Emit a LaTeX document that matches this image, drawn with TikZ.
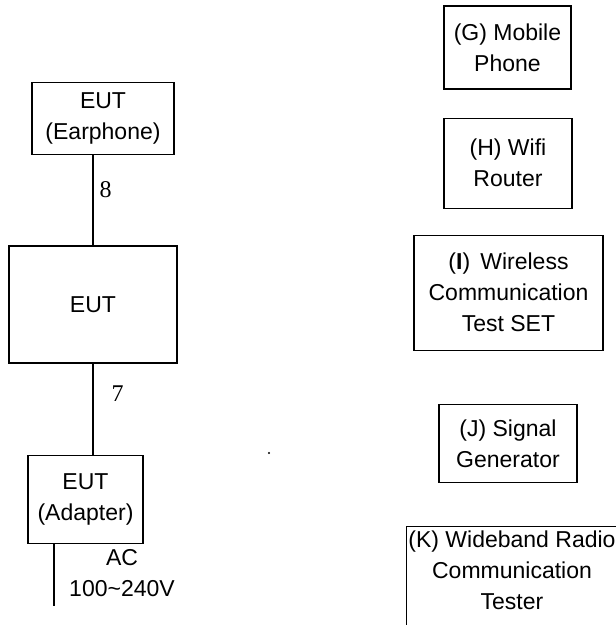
\documentclass[tikz,border=0pt]{standalone}
\usepackage{fontspec}
\setmainfont{Liberation Sans}
\newfontfamily\numfont{Liberation Serif}
\usetikzlibrary{positioning}
\tikzset{
  eqbox/.style={rectangle, draw=black, line width=1.1pt, align=center,
                font=\fontsize{23}{31}\selectfont, inner sep=2pt},
  wire/.style={draw=black, line width=1.1pt},
  numlbl/.style={font=\numfont\fontsize{24}{24}\selectfont, inner sep=1pt},
}

\begin{document}
\begin{tikzpicture}[x=1pt, y=1pt, node distance=28pt]
  \clip (0,0) rectangle (616,625);
  % EUT chain
  \node[eqbox, minimum width=168pt, minimum height=117pt] (eut) at (93,320.5) {EUT};
  \node[eqbox, minimum width=142pt, minimum height=72pt, above=90pt of eut, xshift=10pt]
    (ear) {EUT\\(Earphone)};
  \node[eqbox, minimum width=115pt, minimum height=88pt, below=91pt of eut, xshift=-7.5pt]
    (adp) {EUT\\(Adapter)};
  \coordinate (acend) at (54,19);
  \draw[wire] (eut.north) -- node[numlbl, pos=0.62, right=5pt] {8} (eut.north |- ear.south);
  \draw[wire] (eut.south) -- node[numlbl, pos=0.33, right=17pt] {7} (eut.south |- adp.north);
  \draw[wire] (adp.south -| acend) -- (acend);
  \node[align=center, font=\fontsize{23}{31}\selectfont, inner sep=0pt] (ac) at (122,52)
    {AC\\100\textasciitilde240V};
  \node[circle, fill=black, inner sep=0pt, minimum size=2.2pt] (dot) at (269,172) {};
  % test equipment
  \node[eqbox, minimum width=127pt, minimum height=83pt] (mob) at (507.5,577.5) {(G) Mobile\\Phone};
  \node[eqbox, minimum width=128pt, minimum height=90pt, below=28pt of mob, xshift=0.5pt]
    (wifi) {(H) Wifi\\Router};
  \node[eqbox, minimum width=189pt, minimum height=115pt, below=26pt of wifi, xshift=0.5pt]
    (wcts) {(\textbf{I})\, Wireless\\Communication\\Test SET};
  \node[eqbox, minimum width=138pt, minimum height=78pt, below=53pt of wcts, xshift=-0.5pt]
    (sg) {(J) Signal\\Generator};
  \node[eqbox, minimum width=210pt, inner ysep=4pt, text depth=60pt, below=43pt of sg, xshift=4pt]
    (wrct) {(K) Wideband Radio\\Communication\\Tester};
\end{tikzpicture}
\end{document}
